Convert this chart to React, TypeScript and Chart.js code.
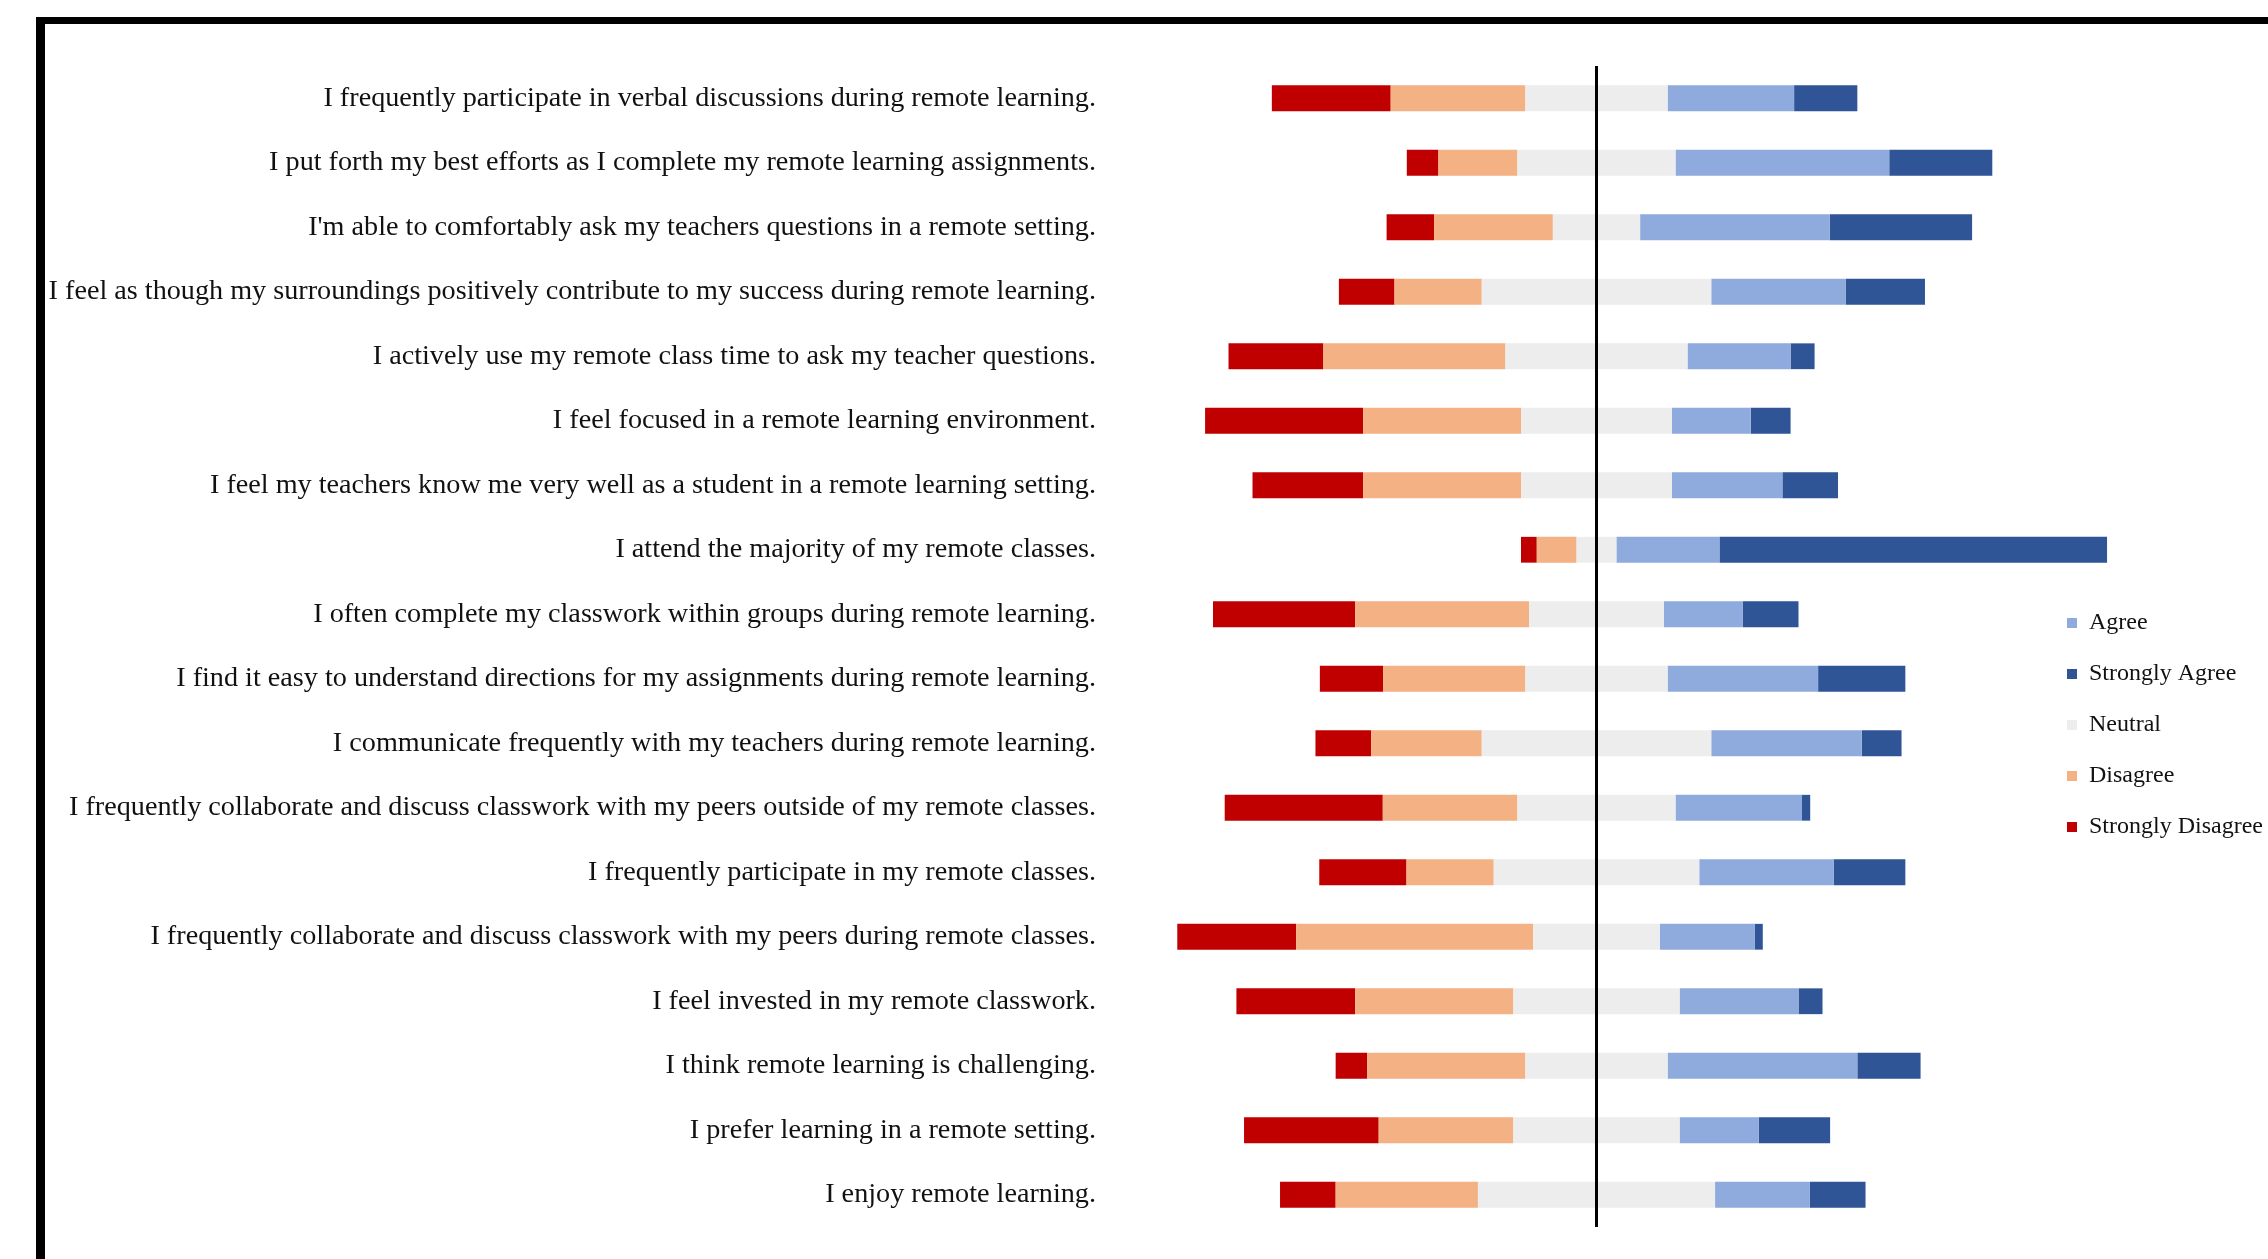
import React, { useEffect, useRef } from 'react';
import { Chart, registerables } from 'chart.js';

Chart.register(...registerables);

// ---- Data (percent of respondents) ----
const categories = [
  'I frequently participate in verbal discussions during remote learning.',
  'I put forth my best efforts as I complete my remote learning assignments.',
  "I'm able to comfortably ask my teachers questions in a remote setting.",
  'I feel as though my surroundings positively contribute to my success during remote learning.',
  'I actively use my remote class time to ask my teacher questions.',
  'I feel focused in a remote learning environment.',
  'I feel my teachers know me very well as a student in a remote learning setting.',
  'I attend the majority of my remote classes.',
  'I often complete my classwork within groups during remote learning.',
  'I find it easy to understand directions for my assignments during remote learning.',
  'I communicate frequently with my teachers during remote learning.',
  'I frequently collaborate and discuss classwork with my peers outside of my remote classes.',
  'I frequently participate in my remote classes.',
  'I frequently collaborate and discuss classwork with my peers during remote classes.',
  'I feel invested in my remote classwork.',
  'I think remote learning is challenging.',
  'I prefer learning in a remote setting.',
  'I enjoy remote learning.',
];

const stronglyDisagree = [20.3, 5.4, 8.1, 9.5, 16.2, 27.0, 18.9, 2.7, 24.3, 10.8, 9.5, 27.0, 14.9, 20.3, 20.3, 5.4, 23.0, 9.5];
const disagree = [23.0, 13.5, 20.3, 14.9, 31.1, 27.0, 27.0, 6.8, 29.7, 24.3, 18.9, 23.0, 14.9, 40.5, 27.0, 27.0, 23.0, 24.3];
const neutral = [24.3, 27.0, 14.9, 39.2, 31.1, 25.7, 25.7, 6.8, 23.0, 24.3, 39.2, 27.0, 35.1, 21.6, 28.4, 24.3, 28.4, 40.5];
const agree = [21.6, 36.5, 32.4, 23.0, 17.6, 13.5, 18.9, 17.6, 13.5, 25.7, 25.7, 21.6, 23.0, 16.2, 20.3, 32.4, 13.5, 16.2];
const stronglyAgree = [10.8, 17.6, 24.3, 13.5, 4.1, 6.8, 9.5, 66.2, 9.5, 14.9, 6.8, 1.4, 12.2, 1.4, 4.1, 10.8, 12.2, 9.5];

const seriesLabels = ['Strongly Disagree', 'Disagree', 'Neutral', 'Agree', 'Strongly Agree'];
const seriesColors = ['#C00000', '#F4B183', '#EDEDED', '#8FAADC', '#2F5597'];

// ---- Layout constants ----
const FONT = '"Times New Roman", "Liberation Serif", serif';
const CANVAS_W = 2268;
const CANVAS_H = 1259;
const PLOT_LEFT = 1110;
const LEGEND_W = 228;
const PLOT_RIGHT = CANVAS_W - LEGEND_W;
const ZERO_X = 1596.5;
const PX_PER_PCT = 5.855;
const X_MIN = -(ZERO_X - PLOT_LEFT) / PX_PER_PCT;
const X_MAX = (PLOT_RIGHT - ZERO_X) / PX_PER_PCT;

// dataset order: [Neutral(-), Disagree, Strongly Disagree, Neutral(+), Agree, Strongly Agree]
const LEGEND_ORDER = [4, 5, 3, 1, 2];

export default function App() {
  const canvasRef = useRef<HTMLCanvasElement | null>(null);

  useEffect(() => {
    const canvas = canvasRef.current;
    if (!canvas) return;

    const mk = (label: string, color: string, data: number[]) => ({
      label,
      data,
      backgroundColor: color,
      borderWidth: 0,
      barPercentage: 0.4,
      categoryPercentage: 1.0,
      clip: false as any,
    });

    const chart = new Chart(canvas, {
      type: 'bar',
      data: {
        labels: categories,
        datasets: [
          mk(seriesLabels[2], seriesColors[2], neutral.map((v) => -v / 2)),
          mk(seriesLabels[1], seriesColors[1], disagree.map((v) => -v)),
          mk(seriesLabels[0], seriesColors[0], stronglyDisagree.map((v) => -v)),
          mk(seriesLabels[2], seriesColors[2], neutral.map((v) => v / 2)),
          mk(seriesLabels[3], seriesColors[3], agree),
          mk(seriesLabels[4], seriesColors[4], stronglyAgree),
        ],
      },
      options: {
        indexAxis: 'y',
        animation: false,
        responsive: false,
        maintainAspectRatio: false,
        devicePixelRatio: 1,
        layout: { padding: { top: 66, bottom: 32, left: 0, right: 0 } },
        scales: {
          x: {
            stacked: true,
            min: X_MIN,
            max: X_MAX,
            display: true,
            ticks: { display: false },
            border: { display: false },
            grid: {
              drawTicks: false,
              z: 1,
              lineWidth: 3,
              color: (ctx: any) => (ctx.tick && ctx.tick.value === 0 ? '#000000' : 'rgba(0,0,0,0)'),
            },
            afterBuildTicks: (scale: any) => {
              scale.ticks = [{ value: 0 }];
            },
          },
          y: {
            stacked: true,
            grid: { display: false, drawTicks: false },
            border: { display: false },
            ticks: {
              autoSkip: false,
              padding: 14,
              color: '#111111',
              font: { family: FONT, size: 28.2 },
            },
            afterFit: (scale: any) => {
              scale.width = PLOT_LEFT;
            },
          },
        },
        plugins: {
          tooltip: { enabled: false },
          legend: {
            position: 'right',
            align: 'center',
            maxWidth: LEGEND_W,
            title: { display: true, text: '', padding: { top: 142.6, bottom: 0 }, font: { size: 12 } },
            labels: {
              boxWidth: 10,
              boxHeight: 10,
              padding: 27,
              color: '#111111',
              font: { family: FONT, size: 24 },
              filter: (item: any) => item.datasetIndex !== 0,
              sort: (a: any, b: any) => LEGEND_ORDER.indexOf(a.datasetIndex) - LEGEND_ORDER.indexOf(b.datasetIndex),
            },
          },
        },
      } as any,
    });

    return () => chart.destroy();
  }, []);

  return (
    <div
      style={{
        position: 'fixed',
        left: 0,
        top: 0,
        width: 2268,
        height: 1259,
        overflow: 'hidden',
        background: '#ffffff',
      }}
    >
      <div
        style={{
          position: 'absolute',
          left: 36,
          top: 17,
          width: 2400,
          height: 1400,
          borderTop: '7px solid #000',
          borderLeft: '9px solid #000',
          boxSizing: 'border-box',
        }}
      />
      <canvas
        ref={canvasRef}
        width={CANVAS_W}
        height={CANVAS_H}
        style={{ position: 'absolute', left: 0, top: 0, width: CANVAS_W, height: CANVAS_H, display: 'block' }}
      />
    </div>
  );
}
